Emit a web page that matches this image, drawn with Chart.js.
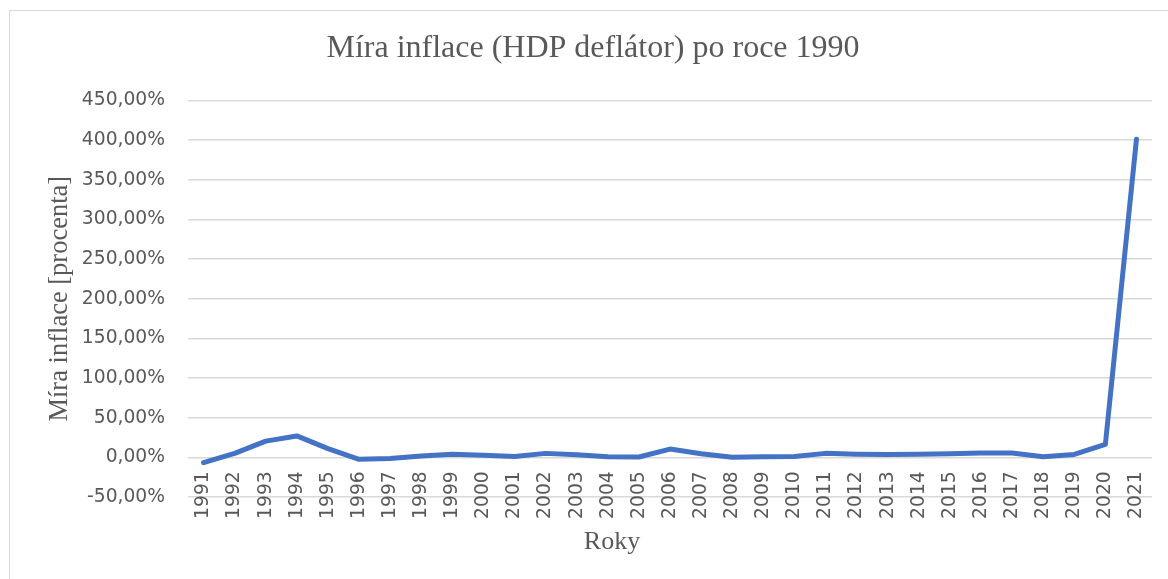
<!DOCTYPE html>
<html lang="cs">
<head>
<meta charset="UTF-8">
<title>Míra inflace (HDP deflátor) po roce 1990</title>
<script src="https://cdn.jsdelivr.net/npm/chart.js@4.4.1/dist/chart.umd.min.js"></script>
<style>
    html, body { margin: 0; padding: 0; background: #ffffff; }
    #graf-box { width: 1168px; height: 579px; }
</style>
</head>
<body>
<div id="graf-box"><canvas id="graf-inflace"></canvas></div>
<script>
// Data z grafu (odhad z obrázku)
const roky = ["1991", "1992", "1993", "1994", "1995", "1996", "1997", "1998", "1999", "2000",
    "2001", "2002", "2003", "2004", "2005", "2006", "2007", "2008", "2009", "2010",
    "2011", "2012", "2013", "2014", "2015", "2016", "2017", "2018", "2019", "2020", "2021"];
const miraInflace = [-6.7, 5, 20.4, 27, 11, -2.5, -1.5, 1.7, 4, 2.5,
    1.2, 5, 3.3, 0.8, 0.4, 10.4, 4.6, 0, 0.8, 1.2,
    5, 4, 3.7, 4, 4.6, 5.4, 5.4, 0.8, 3.7, 16.3, 401];
const osaYMin = -50;
const osaYMax = 450;
const osaYKrok = 50;

const sedaText = "#595959";
const sedaMrizka = "#d9d9d9";
const popisekOsyX = "Roky";

// bílé pozadí, tenký rámeček kolem grafu a popisek osy X (v Excelu není pod středem)
const ramecekPlugin = {
    id: "ramecek",
    beforeDraw(chart) {
        let ctx = chart.ctx;
        ctx.save();
        ctx.fillStyle = "#ffffff";
        ctx.fillRect(0, 0, chart.width, chart.height);
        ctx.strokeStyle = sedaMrizka;
        ctx.lineWidth = 1;
        ctx.strokeRect(9.5, 10.5, chart.width + 50, chart.height + 50);
        ctx.restore();
    },
    afterDraw(chart) {
        let ctx = chart.ctx;
        ctx.save();
        ctx.fillStyle = sedaText;
        ctx.font = "26px 'Liberation Serif'";
        ctx.textAlign = "center";
        ctx.textBaseline = "middle";
        ctx.fillText(popisekOsyX, 612, 542);
        ctx.restore();
    }
};

function formatProcenta(value) {
    return value.toFixed(2).replace(".", ",") + "%";
}

let ctx = document.getElementById("graf-inflace").getContext("2d");

new Chart(ctx, {
    type: "line",
    data: {
        labels: roky,
        datasets: [{
            label: "Míra inflace",
            data: miraInflace,
            borderColor: "#4472C4",
            borderWidth: 5,
            borderJoinStyle: "round",
            borderCapStyle: "round",
            pointRadius: 0,
            tension: 0,
            fill: false
        }]
    },
    options: {
        responsive: true,
        maintainAspectRatio: false,
        animation: false,
        layout: {
            padding: { left: 34, top: 10, right: 16, bottom: 82 }
        },
        plugins: {
            legend: { display: false },
            tooltip: { enabled: false },
            title: {
                display: true,
                text: "Míra inflace (HDP deflátor) po roce 1990",
                color: sedaText,
                font: { family: "Liberation Serif", size: 32, weight: "normal" },
                padding: { top: 19, bottom: 33 }
            }
        },
        scales: {
            x: {
                position: { y: 0 },
                offset: true,
                grid: { display: false, drawTicks: false },
                border: { display: false },
                ticks: {
                    color: sedaText,
                    font: { family: "DejaVu Sans", size: 18.7 },
                    minRotation: 90,
                    maxRotation: 90,
                    autoSkip: false,
                    padding: 14
                },
                afterFit(scale) {
                    // popisky se vejdou, netřeba zmenšovat plochu grafu
                    scale.paddingLeft = 0;
                    scale.paddingRight = 0;
                }
            },
            y: {
                min: osaYMin,
                max: osaYMax,
                grid: { color: sedaMrizka, lineWidth: 1.5, drawTicks: false },
                border: { display: false },
                ticks: {
                    stepSize: osaYKrok,
                    color: sedaText,
                    font: { family: "DejaVu Sans", size: 18.7 },
                    padding: 23,
                    callback: formatProcenta
                },
                title: {
                    display: true,
                    text: "Míra inflace [procenta]",
                    color: sedaText,
                    font: { family: "Liberation Serif", size: 26.5 },
                    padding: { top: 10, bottom: 0 }
                },
                afterFit(scale) {
                    scale.width = 154;
                }
            }
        }
    },
    plugins: [ramecekPlugin]
});
</script>
</body>
</html>
